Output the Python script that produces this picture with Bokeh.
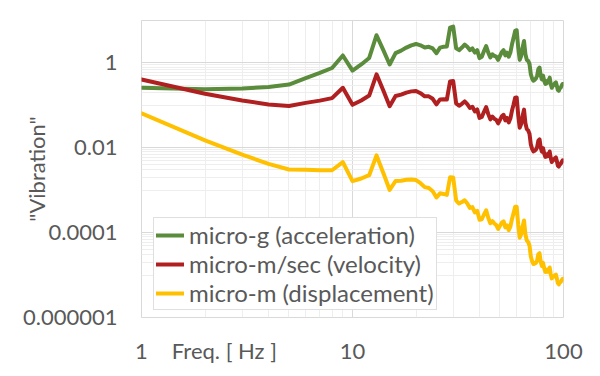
from bokeh.plotting import figure
from bokeh.models import FixedTicker, Legend, LegendItem
from bokeh.embed import file_html
from bokeh.resources import INLINE

# Frequency in Hz
freq = list(range(1, 101))

# micro-g (acceleration)
accel = [0.26, 0.24, 0.25, 0.27, 0.31, 0.44, 0.58, 0.76, 1.5, 0.66,
         0.92, 1.31, 4.5, 2.0, 0.92, 1.7, 1.95, 2.3, 2.6, 2.8,
         2.6, 2.3, 2.4, 2.2, 1.7, 2.3, 2.4, 2.45, 6.8, 7.2,
         2.2, 2.0, 2.3, 2.7, 2.4, 2.0, 2.2, 1.75, 2.0, 1.3,
         1.4, 1.9, 2.5, 1.75, 1.35, 1.6, 1.46, 1.4, 1.18, 1.46,
         1.8, 2.0, 1.5, 1.75, 1.4, 1.75, 2.75, 3.9, 5.7, 5.9,
         2.3, 1.18, 1.46, 2.3, 3.3, 1.6, 1.18, 1.12, 0.95, 0.54,
         0.43, 0.38, 0.40, 0.43, 0.50, 0.72, 0.78, 0.50, 0.41, 0.50,
         0.38, 0.32, 0.33, 0.38, 0.35, 0.45, 0.32, 0.26, 0.29, 0.30,
         0.33, 0.35, 0.29, 0.23, 0.22, 0.25, 0.26, 0.29, 0.32, 0.32]

# micro-m/sec (velocity)
veloc = [0.406, 0.187, 0.130, 0.105, 0.0968, 0.1145, 0.1293, 0.1483, 0.260, 0.103,
         0.1306, 0.1704, 0.540, 0.223, 0.0957, 0.1659, 0.179, 0.1995, 0.2136, 0.2185,
         0.1933, 0.1632, 0.1629, 0.1431, 0.1061, 0.1381, 0.1388, 0.1366, 0.366, 0.3746,
         0.1108, 0.0976, 0.1088, 0.124, 0.107, 0.0867, 0.0928, 0.0719, 0.0801, 0.0507,
         0.0533, 0.0706, 0.0908, 0.0621, 0.0468, 0.0543, 0.0485, 0.0455, 0.0376, 0.0456,
         0.0551, 0.0600, 0.0442, 0.0506, 0.0397, 0.0488, 0.0753, 0.105, 0.1508, 0.1535,
         0.0589, 0.0297, 0.0362, 0.0561, 0.0793, 0.0378, 0.0275, 0.0257, 0.0215, 0.0120,
         0.00945, 0.00824, 0.00855, 0.00907, 0.0104, 0.0148, 0.0158, 0.0100, 0.0081, 0.00976,
         0.00732, 0.00609, 0.00621, 0.00706, 0.00643, 0.00817, 0.00574, 0.00461, 0.00509, 0.0052,
         0.00566, 0.00594, 0.00487, 0.00382, 0.00361, 0.00407, 0.00418, 0.00462, 0.00505, 0.0050]

# micro-m (displacement)
displ = [0.0646, 0.01488, 0.0069, 0.00418, 0.00308, 0.00304, 0.00294, 0.00295, 0.0046, 0.00164,
         0.00189, 0.00226, 0.00661, 0.00254, 0.001015, 0.00165, 0.001676, 0.001764, 0.001789, 0.001739,
         0.001465, 0.001181, 0.001127, 0.000949, 0.000675, 0.000845, 0.000818, 0.000776, 0.002009, 0.001987,
         0.000569, 0.000485, 0.000525, 0.00058, 0.000487, 0.000383, 0.000399, 0.000301, 0.000327, 0.000202,
         0.000207, 0.000268, 0.000336, 0.000225, 0.000166, 0.000188, 0.000164, 0.000151, 0.000122, 0.000145,
         0.000172, 0.000184, 0.000133, 0.000149, 0.000115, 0.000139, 0.00021, 0.000288, 0.000407, 0.000407,
         0.000154, 0.0000762, 0.0000914, 0.00014, 0.000194, 0.0000911, 0.0000653, 0.0000601, 0.0000496, 0.0000273,
         0.0000212, 0.0000182, 0.0000186, 0.0000195, 0.0000221, 0.000031, 0.0000327, 0.0000204, 0.0000163, 0.0000194,
         0.0000144, 0.0000118, 0.0000119, 0.0000134, 0.000012, 0.0000151, 0.0000105, 0.00000834, 0.0000091, 0.0000092,
         0.0000099, 0.0000103, 0.00000833, 0.00000647, 0.00000605, 0.00000675, 0.00000686, 0.0000075, 0.00000812, 0.00000796]

series_names = ["micro-g (acceleration)", "micro-m/sec (velocity)", "micro-m (displacement)"]
series_colors = ["#5A8C3C", "#B02020", "#FFC000"]

x_ticks = [1, 10, 100]
x_tick_labels = ["1", "10", "100"]
x_title = "Freq. [ Hz ]"
x_title_pos = 2.47
y_ticks = [1e-6, 1e-4, 1e-2, 1]
y_tick_labels = ["0.000001", "0.0001", "0.01", "1"]
y_title = '"Vibration"'

FONT = "Lato"
TXT = "#595959"
FS = "22px"

p = figure(width=600, height=376, x_axis_type="log", y_axis_type="log",
           x_range=(1, 100), y_range=(1e-6, 10),
           output_backend="svg", toolbar_location=None,
           min_border_left=141, min_border_right=37,
           min_border_top=20, min_border_bottom=59)

p.outline_line_color = "#d9d9d9"
p.outline_line_width = 1
p.background_fill_color = "white"
p.border_fill_color = "white"

renderers = []
for ys, c in zip([accel, veloc, displ], series_colors):
    r = p.line(freq, ys, line_color=c, line_width=4, line_join="round", line_cap="round")
    renderers.append(r)

# grids
x_minor = [m * d for d in (1, 10) for m in range(2, 10)]
p.xgrid.ticker = FixedTicker(ticks=x_ticks, minor_ticks=x_minor)
p.xgrid.grid_line_color = "#d9d9d9"
p.xgrid.minor_grid_line_color = "#eeeeee"

y_minor = [m * d for d in (1e-5, 1e-3, 1e-1) for m in range(1, 10)] + [10]
p.ygrid.ticker = FixedTicker(ticks=y_ticks, minor_ticks=y_minor)
p.ygrid.grid_line_color = "#d9d9d9"
p.ygrid.minor_grid_line_color = "#eeeeee"

# axes
xo = {t: l for t, l in zip(x_ticks, x_tick_labels)}
xo[x_title_pos] = x_title
p.xaxis.ticker = FixedTicker(ticks=x_ticks + [x_title_pos])
p.xaxis.major_label_overrides = xo
yo = {t: l for t, l in zip(y_ticks, y_tick_labels)}
p.yaxis.ticker = FixedTicker(ticks=y_ticks)
p.yaxis.major_label_overrides = yo

for ax in (p.xaxis[0], p.yaxis[0]):
    ax.axis_line_color = None
    ax.major_tick_line_color = None
    ax.minor_tick_line_color = None
    ax.major_tick_in = 0
    ax.major_tick_out = 0
    ax.minor_tick_in = 0
    ax.minor_tick_out = 0
    ax.major_label_text_font = FONT
    ax.major_label_text_font_size = FS
    ax.major_label_text_color = TXT
p.xaxis.major_label_standoff = 19
p.yaxis.major_label_standoff = 24

p.yaxis.axis_label = y_title
p.yaxis.axis_label_text_font = FONT
p.yaxis.axis_label_text_font_size = FS
p.yaxis.axis_label_text_font_style = "normal"
p.yaxis.axis_label_text_color = TXT
p.yaxis.axis_label_standoff = -30

legend = Legend(items=[LegendItem(label=n, renderers=[r]) for n, r in zip(series_names, renderers)],
                location=(12, 7))
legend.label_text_font = FONT
legend.label_text_font_size = "24px"
legend.label_text_color = TXT
legend.glyph_width = 28
legend.glyph_height = 28
legend.label_height = 28
legend.label_standoff = 5
legend.padding = 2
legend.spacing = 0
legend.margin = 0
legend.border_line_color = "#bfbfbf"
legend.border_line_width = 1
legend.background_fill_color = "white"
legend.background_fill_alpha = 1
p.add_layout(legend)

open("out.html", "w").write(file_html(p, INLINE))
